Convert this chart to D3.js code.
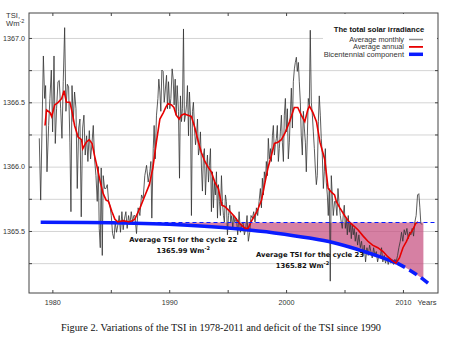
<!DOCTYPE html>
<html>
<head>
<meta charset="utf-8">
<script src="https://cdn.jsdelivr.net/npm/d3@7"></script>
<style>
body { margin: 0; background: #fff; }
svg { display: block; font-family: "Liberation Sans", Arial, sans-serif; }
</style>
</head>
<body>
<svg id="chart" width="450" height="348"></svg>
<script>
// values: [year, TSI W/m2]
const monthly = [
  [1978.88,1366.22],[1979.00,1365.74],[1979.23,1366.86],[1979.34,1366.53],[1979.42,1366.63],[1979.54,1365.96],[1979.68,1366.32],[1979.79,1366.53],[1979.91,1366.75],[1980.02,1366.27],[1980.14,1366.86],[1980.25,1366.18],[1980.36,1366.45],[1980.48,1366.66],[1980.59,1366.67],[1980.71,1366.45],[1980.82,1366.22],[1980.93,1366.66],[1981.05,1367.08],[1981.16,1366.43],[1981.28,1366.64],[1981.39,1366.62],[1981.50,1366.19],[1981.59,1365.65],[1981.68,1366.63],[1981.79,1366.35],[1981.90,1366.58],[1982.02,1366.45],[1982.13,1365.83],[1982.25,1366.30],[1982.36,1366.37],[1982.47,1365.61],[1982.59,1366.30],[1982.70,1366.40],[1982.81,1366.09],[1982.93,1366.24],[1983.04,1366.04],[1983.16,1366.28],[1983.27,1366.06],[1983.38,1366.17],[1983.50,1366.32],[1983.61,1366.06],[1983.73,1365.93],[1983.84,1365.73],[1983.93,1366.00],[1984.01,1365.52],[1984.10,1365.37],[1984.18,1365.99],[1984.27,1365.31],[1984.35,1365.93],[1984.47,1365.83],[1984.58,1365.83],[1984.70,1365.86],[1984.81,1365.73],[1984.92,1365.70],[1985.04,1365.62],[1985.15,1365.48],[1985.27,1365.44],[1985.38,1365.57],[1985.49,1365.49],[1985.61,1365.55],[1985.72,1365.62],[1985.83,1365.49],[1985.95,1365.65],[1986.06,1365.51],[1986.18,1365.60],[1986.29,1365.65],[1986.40,1365.52],[1986.52,1365.62],[1986.63,1365.55],[1986.75,1365.65],[1986.86,1365.57],[1986.97,1365.62],
  [1987.06,1365.62],[1987.20,1365.48],[1987.34,1365.68],[1987.49,1365.62],[1987.63,1365.78],[1987.77,1365.75],[1987.91,1365.93],[1988.06,1366.01],[1988.20,1365.88],[1988.34,1365.96],[1988.43,1366.04],[1988.51,1365.60],[1988.63,1366.14],[1988.71,1366.32],[1988.80,1366.06],[1988.91,1366.40],[1989.03,1366.53],[1989.11,1366.68],[1989.20,1366.58],[1989.28,1366.43],[1989.37,1366.75],[1989.48,1366.74],[1989.57,1366.50],[1989.65,1366.58],[1989.77,1366.71],[1989.85,1366.45],[1989.94,1366.66],[1990.05,1366.45],[1990.14,1366.53],[1990.25,1366.76],[1990.34,1366.68],[1990.42,1366.48],[1990.51,1366.68],[1990.59,1366.40],[1990.68,1366.63],[1990.79,1366.43],[1990.88,1365.91],[1990.96,1366.55],[1991.05,1366.35],[1991.13,1366.45],[1991.22,1367.07],[1991.30,1366.35],[1991.39,1366.40],[1991.48,1366.48],[1991.56,1366.63],[1991.65,1366.24],[1991.73,1366.58],[1991.82,1366.40],[1991.90,1365.62],[1991.99,1366.43],[1992.07,1366.50],[1992.16,1366.30],[1992.25,1366.17],[1992.33,1366.24],[1992.42,1366.37],[1992.50,1366.09],[1992.59,1366.14],[1992.67,1366.27],[1992.76,1365.99],[1992.84,1365.81],[1992.93,1366.09],[1993.01,1366.14],[1993.10,1365.78],[1993.19,1365.99],[1993.27,1366.09],[1993.36,1365.88],[1993.44,1366.01],[1993.53,1366.14],[1993.61,1365.65],[1993.70,1365.96],[1993.78,1365.68],[1993.87,1365.88],[1993.95,1365.78],[1994.04,1365.96],[1994.13,1365.60],[1994.21,1365.86],[1994.30,1365.73],[1994.38,1365.62],[1994.47,1365.93],[1994.55,1365.73],[1994.64,1365.62],[1994.72,1365.57],[1994.81,1365.78],[1994.89,1365.73],[1994.98,1365.47],[1995.07,1365.62],[1995.18,1365.70],[1995.27,1365.57],[1995.35,1365.62],[1995.44,1365.52],[1995.52,1365.62],[1995.61,1365.57],
  [1995.75,1365.60],[1995.86,1365.47],[1995.98,1365.65],[1996.09,1365.49],[1996.21,1365.55],[1996.32,1365.57],[1996.43,1365.47],[1996.55,1365.52],[1996.66,1365.62],[1996.77,1365.42],[1996.89,1365.49],[1997.00,1365.62],[1997.12,1365.60],[1997.23,1365.65],[1997.34,1365.57],[1997.46,1365.68],[1997.57,1365.62],[1997.69,1365.73],[1997.80,1365.83],[1997.89,1365.68],[1997.97,1365.91],[1998.06,1365.78],[1998.14,1365.96],[1998.23,1365.88],[1998.31,1366.04],[1998.40,1365.93],[1998.48,1366.22],[1998.57,1366.06],[1998.66,1366.14],[1998.74,1366.04],[1998.83,1366.24],[1998.91,1366.32],[1999.00,1366.09],[1999.08,1366.17],[1999.17,1366.22],[1999.25,1366.32],[1999.34,1366.04],[1999.42,1366.14],[1999.51,1366.27],[1999.60,1366.40],[1999.68,1366.19],[1999.77,1366.04],[1999.85,1366.40],[1999.94,1366.53],[2000.02,1366.27],[2000.11,1366.45],[2000.19,1366.06],[2000.28,1366.19],[2000.36,1366.40],[2000.45,1366.61],[2000.54,1366.30],[2000.62,1366.66],[2000.71,1366.76],[2000.79,1366.81],[2000.88,1366.85],[2000.96,1366.74],[2001.05,1366.81],[2001.13,1366.66],[2001.22,1366.50],[2001.30,1366.24],[2001.39,1366.09],[2001.48,1366.43],[2001.56,1366.30],[2001.65,1366.19],[2001.73,1365.96],[2001.82,1366.24],[2001.90,1366.53],[2001.99,1366.48],[2002.07,1367.06],[2002.16,1366.50],[2002.25,1366.40],[2002.33,1366.27],[2002.42,1366.14],[2002.50,1365.99],[2002.59,1365.86],[2002.67,1365.93],[2002.76,1366.35],[2002.84,1366.55],[2002.93,1366.40],[2003.01,1366.22],[2003.10,1366.09],[2003.19,1365.83],[2003.27,1365.96],[2003.36,1366.14],[2003.44,1365.88],[2003.53,1365.78],[2003.61,1365.62],[2003.70,1365.83],[2003.78,1365.11],[2003.87,1365.93],[2003.95,1365.78],[2004.04,1365.62],[2004.15,1365.73],
  [2004.24,1365.73],[2004.35,1365.62],[2004.44,1365.83],[2004.52,1365.73],[2004.64,1365.62],[2004.72,1365.57],[2004.81,1365.52],[2004.89,1365.62],[2004.98,1365.70],[2005.07,1365.52],[2005.15,1365.60],[2005.24,1365.47],[2005.32,1365.62],[2005.41,1365.49],[2005.49,1365.57],[2005.58,1365.44],[2005.66,1365.55],[2005.75,1365.47],[2005.83,1365.52],[2005.92,1365.42],[2006.01,1365.49],[2006.12,1365.39],[2006.23,1365.47],[2006.35,1365.37],[2006.46,1365.42],[2006.58,1365.31],[2006.69,1365.39],[2006.80,1365.26],[2006.92,1365.37],[2007.03,1365.31],[2007.15,1365.39],[2007.26,1365.34],[2007.37,1365.29],[2007.49,1365.37],[2007.60,1365.31],[2007.72,1365.34],[2007.83,1365.26],[2007.94,1365.31],[2008.06,1365.29],[2008.17,1365.37],[2008.28,1365.26],[2008.40,1365.31],[2008.51,1365.25],[2008.63,1365.29],[2008.74,1365.24],[2008.85,1365.28],[2008.97,1365.25],[2009.08,1365.26],[2009.20,1365.24],[2009.31,1365.28],[2009.42,1365.26],[2009.54,1365.31],[2009.65,1365.37],[2009.77,1365.42],[2009.88,1365.49],[2009.99,1365.42],[2010.11,1365.51],[2010.22,1365.47],[2010.34,1365.52],[2010.45,1365.44],[2010.56,1365.49],[2010.68,1365.47],[2010.79,1365.52],[2010.91,1365.46],[2011.02,1365.57],[2011.13,1365.62],[2011.25,1365.78],[2011.36,1365.79],[2011.45,1365.68],[2011.53,1365.56],[2011.62,1365.55]
];

const annual = [
  [1979.37,1366.32],[1979.5,1366.44],[1979.8,1366.42],[1979.94,1366.39],[1980.2,1366.48],[1980.5,1366.50],[1980.8,1366.53],[1981.0,1366.59],[1981.2,1366.50],[1981.5,1366.50],[1981.7,1366.42],[1981.9,1366.32],[1982.2,1366.23],[1982.5,1366.21],[1982.6,1366.14],[1982.9,1366.19],[1983.15,1366.21],[1983.4,1366.18],[1983.6,1366.09],[1983.8,1366.01],[1984.1,1365.88],[1984.35,1365.79],[1984.6,1365.74],[1984.8,1365.73],[1985.1,1365.65],[1985.35,1365.59],[1985.6,1365.57],[1986.05,1365.58],[1986.6,1365.57],[1987.05,1365.59],[1987.2,1365.62],[1987.5,1365.68],[1987.9,1365.77],[1988.3,1365.86],[1988.6,1365.99],[1988.9,1366.19],[1989.2,1366.37],[1989.5,1366.42],[1989.7,1366.46],[1989.9,1366.49],[1990.2,1366.48],[1990.4,1366.46],[1990.6,1366.40],[1990.85,1366.37],[1991.05,1366.40],[1991.3,1366.41],[1991.6,1366.40],[1991.9,1366.39],[1992.2,1366.30],[1992.5,1366.19],[1992.75,1366.11],[1993.05,1366.04],[1993.3,1366.00],[1993.6,1365.96],[1993.9,1365.88],[1994.2,1365.83],[1994.5,1365.70],[1994.75,1365.69],[1995.2,1365.65],[1995.6,1365.61],[1996.0,1365.56],[1996.5,1365.52],[1996.75,1365.52],[1997.0,1365.57],[1997.5,1365.65],[1997.9,1365.74],[1998.2,1365.88],[1998.45,1365.99],[1998.75,1366.09],[1999.0,1366.18],[1999.3,1366.19],[1999.6,1366.21],[1999.9,1366.26],[2000.3,1366.35],[2000.7,1366.46],[2001.0,1366.46],[2001.3,1366.40],[2001.6,1366.35],[2001.85,1366.44],[2002.0,1366.47],[2002.3,1366.42],[2002.6,1366.35],[2002.9,1366.19],[2003.3,1366.06],[2003.6,1365.83],[2003.9,1365.80],[2004.15,1365.78],[2004.3,1365.73],[2004.6,1365.68],[2005.0,1365.62],[2005.4,1365.57],[2005.9,1365.53],[2006.15,1365.51],[2006.6,1365.46],[2007.0,1365.42],[2007.4,1365.39],[2007.85,1365.37],[2008.3,1365.34],[2008.7,1365.30],[2009.1,1365.27],[2009.4,1365.25],[2009.7,1365.29],[2010.0,1365.37],[2010.3,1365.42],[2010.55,1365.47],[2010.85,1365.51],[2011.1,1365.56],[2011.3,1365.57]
];

const bicentennial = [
  [1979,1365.567],[1983,1365.566],[1987,1365.561],[1990,1365.552],[1993,1365.537],[1996,1365.515],[1999,1365.485],[2002,1365.445],[2004,1365.41],[2006,1365.36],[2008,1365.30],[2009.5,1365.25],[2010.5,1365.20],[2011.5,1365.14],[2012.4,1365.075]
];
const forecastFrom = 2009.5;     // bicentennial line dashed after this year
const deficitLevel = 1365.566;   // dashed reference level
const deficitRange = [1990, 2011.75];
const levelRange = [1986, 2012.7];

const xTicks = [1980, 1985, 1990, 1995, 2000, 2005, 2010];
const yTicks = [1365.25, 1365.5, 1365.75, 1366.0, 1366.25, 1366.5, 1366.75, 1367.0];
const legendTitle = "The total solar irradiance";
const legendLabels = ["Average monthly", "Average annual", "Bicentennial component"];
const cycleNotes = [
  { text: "Average TSI for the cycle 22", value: "1365.99", year: 1991.2, tsi: 1365.415, year2: 1991.2, tsi2: 1365.33 },
  { text: "Average TSI for the cycle 23", value: "1365.82", year: 2002.05, tsi: 1365.296, year2: 2001.4, tsi2: 1365.216 }
];
const caption = "Figure 2. Variations of the TSI in 1978-2011 and deficit of the TSI since 1990";

const svg = d3.select("#chart");
const mLeft = 29, mRight = 438, mTop = 13, mBottom = 293;

const x = d3.scaleLinear().domain([1978, 2013]).range([mLeft, mRight]);
const y = d3.scaleLinear().domain([1365.018, 1367.194]).range([mBottom, mTop]);

// grid
svg.append("g")
  .attr("transform", `translate(${mLeft},0)`)
  .call(d3.axisLeft(y).tickValues(yTicks).tickSize(-(mRight - mLeft)).tickFormat(""))
  .call(g => g.select(".domain").remove())
  .call(g => g.selectAll("line").attr("stroke", "#d4d4d4").attr("stroke-width", 1));

// deficit area
svg.append("clipPath").attr("id", "defclip")
  .append("rect")
  .attr("x", x(deficitRange[0])).attr("y", mTop)
  .attr("width", x(deficitRange[1]) - x(deficitRange[0])).attr("height", mBottom - mTop);

svg.append("path")
  .datum(bicentennial)
  .attr("clip-path", "url(#defclip)")
  .attr("fill", "#c44a7c")
  .attr("fill-opacity", 0.7)
  .attr("d", d3.area().curve(d3.curveMonotoneX)
    .x(d => x(d[0])).y0(y(deficitLevel)).y1(d => y(d[1])));

// monthly
svg.append("path")
  .datum(monthly)
  .attr("fill", "none")
  .attr("stroke", "#333")
  .attr("stroke-width", 0.8)
  .attr("d", d3.line().x(d => x(d[0])).y(d => y(d[1])));

// bicentennial
const bLine = d3.line().curve(d3.curveMonotoneX).x(d => x(d[0])).y(d => y(d[1]));
svg.append("path")
  .datum(bicentennial.filter(d => d[0] <= forecastFrom))
  .attr("fill", "none").attr("stroke", "#0a1cff").attr("stroke-width", 3.5)
  .attr("d", bLine);
svg.append("path")
  .datum(bicentennial.filter(d => d[0] >= forecastFrom))
  .attr("fill", "none").attr("stroke", "#0a1cff").attr("stroke-width", 3.5)
  .attr("stroke-dasharray", "9,5")
  .attr("d", bLine);

// annual
svg.append("path")
  .datum(annual)
  .attr("fill", "none")
  .attr("stroke", "#e80000")
  .attr("stroke-width", 1.6)
  .attr("d", d3.line().x(d => x(d[0])).y(d => y(d[1])));

// level line
svg.append("line")
  .attr("x1", x(levelRange[0])).attr("x2", x(levelRange[1]))
  .attr("y1", y(deficitLevel)).attr("y2", y(deficitLevel))
  .attr("stroke", "#0a1cff").attr("stroke-width", 1.2)
  .attr("stroke-dasharray", "4,3");

// cycle notes
const notes = svg.append("g").attr("font-family", "'DejaVu Sans', sans-serif")
  .attr("font-weight", "bold").attr("font-size", 6.8).attr("fill", "#111")
  .attr("text-anchor", "middle");
cycleNotes.forEach(n => {
  notes.append("text").attr("x", x(n.year)).attr("y", y(n.tsi)).text(n.text);
  const t = notes.append("text").attr("x", x(n.year2)).attr("y", y(n.tsi2));
  t.append("tspan").text(n.value + " Wm");
  t.append("tspan").attr("dy", -3).attr("font-size", 5).text("-2");
});

// axes
const tickStyle = g => {
  g.select(".domain").remove();
  g.selectAll("line").attr("stroke", "#444");
  g.selectAll("text").attr("fill", "#333").attr("font-size", 7.2);
};
svg.append("g").attr("transform", `translate(0,${mBottom})`)
  .call(d3.axisBottom(x).tickValues(xTicks).tickSize(-3).tickPadding(7)
    .tickFormat(d => d % 10 === 0 ? d : ""))
  .call(tickStyle);
svg.append("g").attr("transform", `translate(0,${mTop})`)
  .call(d3.axisTop(x).tickValues(xTicks).tickSize(-3).tickFormat(""))
  .call(tickStyle);
svg.append("g").attr("transform", `translate(${mLeft},0)`)
  .call(d3.axisLeft(y).tickValues(yTicks).tickSize(-3).tickPadding(4)
    .tickFormat(d => (d * 2) % 1 === 0 ? d3.format(".1f")(d) : ""))
  .call(tickStyle);
svg.append("g").attr("transform", `translate(${mRight},0)`)
  .call(d3.axisRight(y).tickValues(yTicks).tickSize(-3).tickFormat(""))
  .call(tickStyle);

// legend
const lg = svg.append("g");
lg.append("rect").attr("x", 323).attr("y", mTop + 1).attr("width", mRight - 324).attr("height", 46).attr("fill", "#fff");
lg.append("text").attr("x", 379).attr("y", 31.5).attr("text-anchor", "middle")
  .attr("font-size", 7.6).attr("font-weight", "bold").attr("fill", "#111").text(legendTitle);
const sampleStyle = [
  { stroke: "#8c8c8c", w: 1.5 },
  { stroke: "#e80000", w: 1.8 },
  { stroke: "#0a1cff", w: 3.5 }
];
legendLabels.forEach((lab, i) => {
  const yy = 39.5 + i * 7.4;
  lg.append("text").attr("x", 404).attr("y", yy + 2.3).attr("text-anchor", "end")
    .attr("font-size", 6.4).attr("textLength", lab.length * 3.65).attr("lengthAdjust", "spacingAndGlyphs")
    .attr("fill", "#333").text(lab);
  lg.append("line").attr("x1", 409).attr("x2", 423).attr("y1", yy).attr("y2", yy)
    .attr("stroke", sampleStyle[i].stroke).attr("stroke-width", sampleStyle[i].w);
});

// frame
svg.append("rect").attr("x", mLeft).attr("y", mTop).attr("width", mRight - mLeft).attr("height", mBottom - mTop)
  .attr("fill", "none").attr("stroke", "#444").attr("stroke-width", 1);

// axis titles
svg.append("text").attr("x", 20).attr("y", 17.5).attr("text-anchor", "end")
  .attr("font-size", 7.6).attr("fill", "#333").text("TSI,");
const wm = svg.append("text").attr("x", 6).attr("y", 25.5).attr("font-size", 7.6).attr("fill", "#333");
wm.append("tspan").text("Wm");
wm.append("tspan").attr("dy", -3).attr("font-size", 5.5).text("-2");
svg.append("text").attr("x", 427).attr("y", 305).attr("text-anchor", "middle")
  .attr("font-size", 7.6).attr("fill", "#333").text("Years");

// caption
svg.append("text").attr("x", 221).attr("y", 331).attr("text-anchor", "middle")
  .attr("font-family", "'Liberation Serif', 'Times New Roman', serif")
  .attr("font-size", 10.5).attr("fill", "#111")
  .attr("textLength", 320).attr("lengthAdjust", "spacingAndGlyphs")
  .text(caption);
</script>
</body>
</html>
